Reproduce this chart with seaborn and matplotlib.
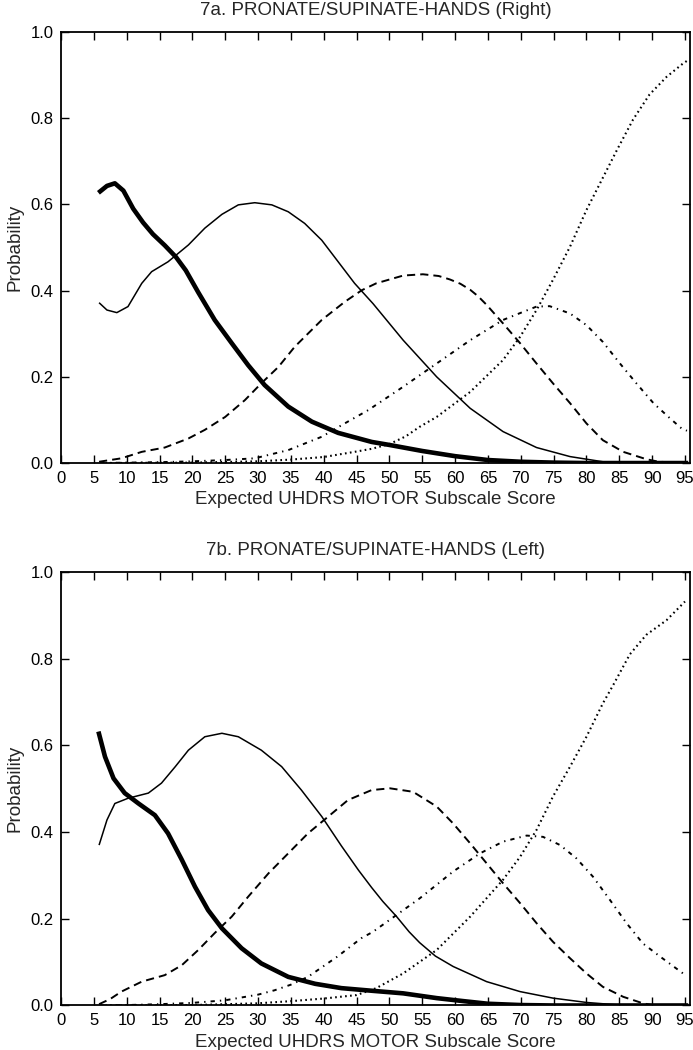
import matplotlib
matplotlib.use("Agg")
import matplotlib.pyplot as plt
import seaborn as sns

# ---- data: expected score vs probability of each item level ----
titles = ["7a. PRONATE/SUPINATE-HANDS (Right)", "7b. PRONATE/SUPINATE-HANDS (Left)"]
x_label = "Expected UHDRS MOTOR Subscale Score"
y_label = "Probability"
x_ticks = list(range(0, 100, 5))
y_ticks = [0.0, 0.2, 0.4, 0.6, 0.8, 1.0]
y_tick_labels = ["0.0", "0.2", "0.4", "0.6", "0.8", "1.0"]

# 7a, right hand
right_l0_x = [5.7, 7, 8.2, 9.5, 11, 12.5, 14, 15.8, 17.5, 19, 20.9, 23.4, 26, 28.5, 31, 34.6, 38.2, 42.2, 47.3,
              50, 55, 60, 65, 70, 75, 80, 95.5]
right_l0_p = [0.627, 0.643, 0.649, 0.632, 0.590, 0.558, 0.531, 0.505, 0.478, 0.447, 0.396, 0.332, 0.278, 0.227,
              0.181, 0.131, 0.096, 0.070, 0.049, 0.042, 0.028, 0.016, 0.007, 0.003, 0.001, 0.0, 0.0]
right_l1_x = [5.8, 7, 8.5, 10.2, 12.3, 13.8, 16.3, 19.4, 21.9, 24.5, 27, 29.5, 32.1, 34.6, 37.1, 39.7, 42.2, 44.7,
              47.5, 52.1, 57.2, 62.3, 67.3, 72.4, 77.5, 82.5, 85, 95.5]
right_l1_p = [0.372, 0.355, 0.349, 0.363, 0.417, 0.444, 0.467, 0.506, 0.545, 0.577, 0.599, 0.604, 0.599, 0.583,
              0.556, 0.517, 0.467, 0.417, 0.370, 0.285, 0.200, 0.127, 0.073, 0.036, 0.015, 0.003, 0.001, 0.0]
right_l2_x = [5.8, 9.2, 12.3, 15.8, 19.4, 21.9, 25, 28, 30.5, 33.1, 35.6, 39.7, 43.2, 45.8, 48, 52.1, 55.1, 57.5,
              59.2, 60.8, 62.3, 63.5, 64.8, 67.3, 69.9, 72.4, 74.9, 77.5, 80, 82.5, 85.6, 89.1, 91, 95.5]
right_l2_p = [0.003, 0.011, 0.026, 0.036, 0.057, 0.077, 0.107, 0.146, 0.185, 0.223, 0.270, 0.332, 0.374, 0.401,
              0.417, 0.435, 0.438, 0.434, 0.426, 0.416, 0.402, 0.387, 0.367, 0.324, 0.278, 0.231, 0.185, 0.139,
              0.092, 0.053, 0.026, 0.009, 0.003, 0.0]
right_l3_x = [6, 10, 15, 20, 25, 29.5, 34.6, 39.7, 43.2, 46.8, 52.1, 57.2, 62.3, 67.3, 70.4, 72.4, 74.4, 77.5, 80,
              82.5, 85.1, 87.6, 90.2, 92.7, 94.5, 95.3]
right_l3_p = [0.0, 0.001, 0.002, 0.004, 0.007, 0.011, 0.030, 0.061, 0.092, 0.123, 0.177, 0.231, 0.285, 0.332, 0.351,
              0.363, 0.364, 0.347, 0.320, 0.281, 0.231, 0.185, 0.139, 0.104, 0.080, 0.075]
right_l4_x = [6, 20, 30, 35, 40, 44.7, 47.3, 50, 52.5, 54.6, 57.2, 62.3, 67.3, 69.9, 72.4, 74.9, 77.5, 80, 82.5,
              84.6, 87.1, 89.6, 92.2, 94.7, 95.5]
right_l4_p = [0.0, 0.001, 0.004, 0.008, 0.014, 0.026, 0.033, 0.044, 0.062, 0.084, 0.107, 0.165, 0.239, 0.293, 0.355,
              0.425, 0.502, 0.587, 0.662, 0.725, 0.797, 0.855, 0.896, 0.927, 0.935]

# 7b, left hand
left_l0_x = [5.7, 6.7, 8, 9.7, 11.8, 14.3, 16.3, 18.4, 20.4, 22.4, 24.5, 27.5, 30.5, 34.6, 38.7, 42.7, 47.3, 52.1,
             57.2, 61.3, 65, 70, 75, 95.5]
left_l0_p = [0.632, 0.574, 0.524, 0.490, 0.466, 0.439, 0.397, 0.336, 0.274, 0.220, 0.178, 0.132, 0.097, 0.066,
             0.050, 0.040, 0.034, 0.028, 0.017, 0.010, 0.004, 0.001, 0.0, 0.0]
left_l1_x = [5.8, 7, 8.2, 10.2, 13.3, 15.3, 17.4, 19.4, 21.9, 24.5, 27, 30.5, 33.6, 36.6, 39.7, 42.7, 45.3, 47.3,
             49, 51.1, 53, 54.6, 57, 59.7, 64.8, 69.9, 74.9, 80, 85, 95.5]
left_l1_p = [0.370, 0.428, 0.466, 0.478, 0.490, 0.513, 0.551, 0.589, 0.620, 0.628, 0.620, 0.589, 0.551, 0.497,
             0.436, 0.368, 0.312, 0.272, 0.240, 0.205, 0.170, 0.145, 0.114, 0.090, 0.055, 0.032, 0.017, 0.007,
             0.001, 0.0]
left_l2_x = [5.8, 7.5, 9.2, 12.3, 15.8, 18.4, 20.9, 23.4, 26, 28.5, 31.6, 34.6, 37.6, 40.7, 43.7, 47.3, 50.1, 53.6,
             57.2, 59.7, 62.3, 64.8, 67.3, 69.9, 72.4, 74.9, 77.5, 80, 82.5, 85.6, 88.6, 90, 95.5]
left_l2_p = [0.003, 0.015, 0.032, 0.055, 0.070, 0.093, 0.128, 0.167, 0.205, 0.251, 0.305, 0.351, 0.397, 0.436,
             0.474, 0.497, 0.501, 0.493, 0.459, 0.420, 0.374, 0.328, 0.282, 0.236, 0.190, 0.147, 0.109, 0.074,
             0.043, 0.020, 0.005, 0.001, 0.0]
left_l3_x = [6, 10, 15, 20, 25, 30, 32.5, 35, 37.6, 42.1, 45.7, 47.5, 51.1, 54.6, 59.7, 63.8, 67.3, 70.9, 73.4, 76,
             78.5, 81, 83.6, 86.1, 88.6, 91.2, 94.7, 95.3]
left_l3_p = [0.0, 0.001, 0.003, 0.006, 0.012, 0.025, 0.035, 0.048, 0.066, 0.113, 0.155, 0.170, 0.209, 0.247, 0.309,
             0.351, 0.378, 0.392, 0.389, 0.370, 0.339, 0.297, 0.243, 0.190, 0.143, 0.113, 0.074, 0.068]
left_l4_x = [6, 20, 30, 35, 40, 45, 48, 52.1, 57.2, 62.3, 67.3, 69.9, 72.4, 74.9, 77.5, 80, 82.5, 84.1, 86.6, 89.1,
             92.2, 95]
left_l4_p = [0.0, 0.001, 0.005, 0.010, 0.016, 0.024, 0.040, 0.074, 0.128, 0.205, 0.290, 0.343, 0.405, 0.482, 0.551,
             0.620, 0.697, 0.740, 0.810, 0.855, 0.889, 0.932]

panels = [
    [(right_l0_x, right_l0_p), (right_l1_x, right_l1_p), (right_l2_x, right_l2_p),
     (right_l3_x, right_l3_p), (right_l4_x, right_l4_p)],
    [(left_l0_x, left_l0_p), (left_l1_x, left_l1_p), (left_l2_x, left_l2_p),
     (left_l3_x, left_l3_p), (left_l4_x, left_l4_p)],
]

# one line style per item level (0 = thick solid ... 4 = dotted)
level_styles = [
    dict(linewidth=3.3, linestyle="-"),
    dict(linewidth=1.1, linestyle="-"),
    dict(linewidth=1.4, linestyle=(0, (4.2, 2.6))),
    dict(linewidth=1.4, linestyle=(0, (2.2, 2.6, 0.7, 2.6))),
    dict(linewidth=1.5, linestyle=(0, (0.8, 1.6))),
]

sns.set_theme(style="ticks")
plt.rcParams["font.family"] = ["Liberation Sans", "DejaVu Sans"]

fig, axes = plt.subplots(2, 1, figsize=(6.93, 10.5), dpi=100)
axes[0].set_position([0.088, 0.559, 0.908, 0.4105])
axes[1].set_position([0.088, 0.0424, 0.908, 0.4128])

for ax, title, curves in zip(axes, titles, panels):
    for (xs, ps), style in zip(curves, level_styles):
        sns.lineplot(x=xs, y=ps, ax=ax, color="black", solid_capstyle="butt", **style)
    ax.set_xlim(0, 95.8)
    ax.set_ylim(0, 1.0)
    ax.set_xticks(x_ticks)
    ax.set_xticklabels([str(t) for t in x_ticks])
    ax.set_yticks(y_ticks)
    ax.set_yticklabels(y_tick_labels)
    ax.tick_params(which="both", direction="in", top=True, right=True, length=5.5, width=1,
                   labelsize=12, colors="black")
    ax.tick_params(axis="x", pad=5.5)
    ax.tick_params(axis="y", pad=5.5)
    for spine in ax.spines.values():
        spine.set_linewidth(1.3)
        spine.set_color("black")
    ax.set_title(title, fontsize=13.5, pad=12)
    ax.set_xlabel(x_label, fontsize=13.5, labelpad=4)
    ax.set_ylabel(y_label, fontsize=13.5, labelpad=5)

fig.savefig("out.png", dpi=100, facecolor="white")
